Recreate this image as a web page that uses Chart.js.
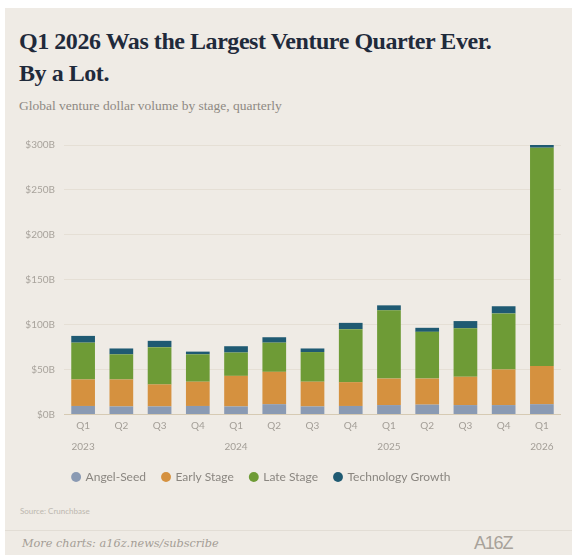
<!DOCTYPE html>
<html>
<head>
<meta charset="utf-8">
<script src="https://cdn.jsdelivr.net/npm/chart.js@4.4.1/dist/chart.umd.min.js"></script>
<style>
  html, body { margin: 0; padding: 0; background: #ffffff; }
  body { width: 580px; height: 555px; position: relative; overflow: hidden; }
  .card { position: absolute; left: 5px; top: 8px; width: 567px; height: 547px; background: #efebe5; }
  .title { position: absolute; left: 19px; top: 25px; margin: 0; font: bold 24px/32px "Liberation Serif", serif;
           letter-spacing: -0.45px; color: #1f2a3b; white-space: nowrap; }
  .subtitle { position: absolute; left: 19px; top: 98px; margin: 0; font: 13.5px/16px "Liberation Serif", serif;
              color: #8e8983; white-space: nowrap; }
  .chart-box { position: absolute; left: 5px; top: 125px; width: 567px; height: 375px; }
  .source { position: absolute; left: 20px; top: 505px; font: 8px/12px Lato, sans-serif; color: #bcb7af; }
  .footer-line { position: absolute; left: 5px; top: 530px; width: 567px; height: 1px; background: #e2ddd5; }
  .more { position: absolute; left: 22px; top: 536px; font: italic 11.3px/16px "DejaVu Serif", serif; color: #a49d95; white-space: nowrap; }
  .logo { position: absolute; left: 474px; top: 533px; font: 18px/20px "Liberation Sans Narrow", "Liberation Sans", sans-serif;
          letter-spacing: -1.2px; color: #a8a29a; }
</style>
</head>
<body>
<div class="card"></div>
<div class="title">Q1 2026 Was the Largest Venture Quarter Ever.<br>By a Lot.</div>
<div class="subtitle">Global venture dollar volume by stage, quarterly</div>
<div class="chart-box"><canvas id="chart" width="567" height="375"></canvas></div>
<div class="source">Source: Crunchbase</div>
<div class="footer-line"></div>
<div class="more">More charts: a16z.news/subscribe</div>
<div class="logo">A16Z</div>

<script>
// Quarterly global venture dollar volume by stage, in $B
const quarters = ['Q1', 'Q2', 'Q3', 'Q4', 'Q1', 'Q2', 'Q3', 'Q4', 'Q1', 'Q2', 'Q3', 'Q4', 'Q1'];
const years    = ['2023', '', '', '', '2024', '', '', '', '2025', '', '', '', '2026'];

const angelSeed        = [9.5, 9, 9, 9.5, 9, 11.5, 9, 9.5, 10.5, 11, 10.5, 10.5, 11.5];
const earlyStage       = [29.5, 30, 24.5, 27, 34, 36, 27.5, 26.5, 29.5, 29, 31.5, 39.5, 42.5];
const lateStage        = [41, 28, 41.5, 30.5, 26, 32.5, 33, 59, 76, 52, 54, 62.5, 243];
const technologyGrowth = [7.5, 6.5, 7, 3, 7, 6, 4, 7, 5.5, 4.5, 8, 8, 3];

const yTickValues = [0, 50, 100, 150, 200, 250, 300];

const seriesNames  = ['Angel-Seed', 'Early Stage', 'Late Stage', 'Technology Growth'];
const seriesColors = ['#8a9ab3', '#d5913f', '#6e9b36', '#1f5a72'];

const labels = quarters.map((q, i) => years[i] ? [q, years[i]] : [q]);
const seriesData = [angelSeed, earlyStage, lateStage, technologyGrowth];

const datasets = seriesData.map((data, i) => ({
  label: seriesNames[i],
  data: data,
  backgroundColor: seriesColors[i],
  borderWidth: 0,
  stack: 'volume',
  categoryPercentage: 1,
  barPercentage: 0.62,
  clip: false
}));

// Nudge the legend row to the left of centre
const legendShift = {
  id: 'legendShift',
  afterLayout(chart) {
    const lg = chart.legend;
    if (lg) { lg.left -= 50; }
  }
};

new Chart(document.getElementById('chart'), {
  type: 'bar',
  data: { labels, datasets },
  plugins: [legendShift],
  options: {
    responsive: false,
    animation: false,
    layout: { padding: { left: 7, right: 11, top: 20, bottom: 7 } },
    scales: {
      x: {
        stacked: true,
        grid: { display: false },
        border: { display: false },
        ticks: {
          padding: -7,
          color: '#a39e97',
          font: { family: 'Lato', size: 10, lineHeight: 2.1 },
          maxRotation: 0,
          autoSkip: false
        },
        afterFit(scale) { scale.height = 40; }
      },
      y: {
        stacked: true,
        min: 0,
        max: 300,
        afterBuildTicks(scale) { scale.ticks = yTickValues.map(v => ({ value: v })); },
        grid: {
          drawTicks: false,
          color: ctx => (ctx.tick && ctx.tick.value === 0) ? '#d6cab3' : '#e5dfd5',
          lineWidth: 1
        },
        border: { display: false },
        ticks: {
          padding: 9,
          color: '#a8a39c',
          font: { family: 'Lato', size: 10 },
          callback: v => '$' + v + 'B'
        },
        afterFit(scale) { scale.width = 52; }
      }
    },
    plugins: {
      tooltip: { enabled: false },
      legend: {
        position: 'bottom',
        labels: {
          usePointStyle: true,
          pointStyle: 'circle',
          boxWidth: 7,
          boxHeight: 7,
          padding: 16.5,
          color: '#8a8680',
          font: { family: 'Lato', size: 12 }
        }
      }
    }
  }
});
</script>
</body>
</html>
